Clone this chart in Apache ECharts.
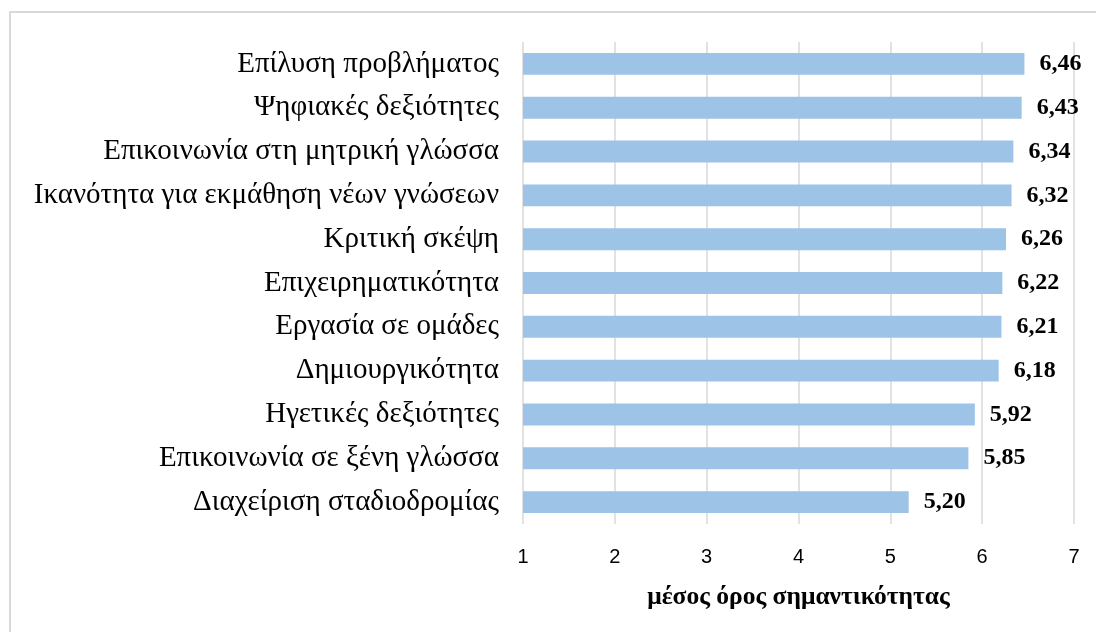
<!DOCTYPE html>
<html>
<head>
<meta charset="utf-8">
<script src="https://cdn.jsdelivr.net/npm/echarts@6/dist/echarts.min.js"></script>
<style>
  html, body { margin: 0; padding: 0; background: #fff; }
  #chart { width: 1096px; height: 632px; }
</style>
</head>
<body>
<div id="chart"></div>
<script>
// Skills, listed top to bottom
const categories = [
  'Επίλυση προβλήματος',
  'Ψηφιακές δεξιότητες',
  'Επικοινωνία στη μητρική γλώσσα',
  'Ικανότητα για εκμάθηση νέων γνώσεων',
  'Κριτική σκέψη',
  'Επιχειρηματικότητα',
  'Εργασία σε ομάδες',
  'Δημιουργικότητα',
  'Ηγετικές δεξιότητες',
  'Επικοινωνία σε ξένη γλώσσα',
  'Διαχείριση σταδιοδρομίας'
];
// Mean importance score for each skill
const meanScores = [6.46, 6.43, 6.34, 6.32, 6.26, 6.22, 6.21, 6.18, 5.92, 5.85, 5.20];
// Value axis range
const axisMin = 1;
const axisMax = 7;
const axisStep = 1;
const axisTitle = 'μέσος όρος σημαντικότητας';

const chart = echarts.init(document.getElementById('chart'), null, { renderer: 'canvas' });

chart.setOption({
  animation: false,
  backgroundColor: '#ffffff',
  graphic: [{
    type: 'rect',
    silent: true,
    shape: { x: 10, y: 12, width: 1200, height: 1200 },
    style: { fill: 'none', stroke: '#d9d9d9', lineWidth: 2 }
  }],
  grid: { left: 523, right: 22, top: 42, bottom: 108 },
  xAxis: {
    type: 'value',
    min: axisMin,
    max: axisMax,
    interval: axisStep,
    axisLine: { show: false },
    axisTick: { show: false },
    splitLine: { show: true, lineStyle: { color: '#d9d9d9', width: 1.5 } },
    axisLabel: {
      margin: 23,
      fontFamily: 'Liberation Sans',
      fontSize: 20,
      color: '#000'
    },
    name: axisTitle,
    nameLocation: 'middle',
    nameGap: 60,
    nameTextStyle: {
      fontFamily: 'Liberation Serif',
      fontWeight: 'bold',
      fontSize: 25.5,
      color: '#000'
    }
  },
  yAxis: {
    type: 'category',
    data: categories,
    inverse: true,
    axisLine: { show: false },
    axisTick: { show: false },
    splitLine: { show: false },
    axisLabel: {
      margin: 24,
      fontFamily: 'Liberation Serif',
      fontSize: 29,
      color: '#000'
    }
  },
  series: [{
    type: 'bar',
    data: meanScores,
    barWidth: '50%',
    itemStyle: { color: '#9dc3e6' },
    label: {
      show: true,
      position: 'right',
      distance: 15,
      fontFamily: 'Liberation Serif',
      fontWeight: 'bold',
      fontSize: 24,
      color: '#000',
      formatter: p => p.value.toFixed(2).replace('.', ',')
    }
  }]
});
</script>
</body>
</html>
